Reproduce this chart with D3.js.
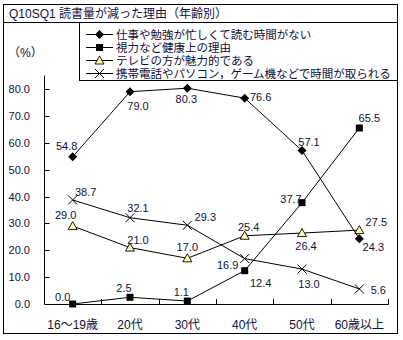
<!DOCTYPE html>
<html>
<head>
<meta charset="utf-8">
<script src="https://cdn.jsdelivr.net/npm/d3@7"></script>
<style>
  body { margin: 0; background: #fff; }
  text { font-family: "Liberation Sans", "Noto Sans CJK JP", sans-serif; fill: #10103a; }
</style>
</head>
<body>
<div id="chart"></div>
<script>
const title = "Q10SQ1 読書量が減った理由（年齢別）"
const categories = ["16〜19歳", "20代", "30代", "40代", "50代", "60歳以上"]
const seriesNames = [
  "仕事や勉強が忙しくて読む時間がない",
  "視力など健康上の理由",
  "テレビの方が魅力的である",
  "携帯電話やパソコン，ゲーム機などで時間が取られる"
]
const busy = [54.8, 79.0, 80.3, 76.6, 57.1, 24.3]
const health = [0.0, 2.5, 1.1, 12.4, 37.7, 65.5]
const tv = [29.0, 21.0, 17.0, 25.4, 26.4, 27.5]
const phone = [38.7, 32.1, 29.3, 16.9, 13.0, 5.6]
const yTicks = [0, 10, 20, 30, 40, 50, 60, 70, 80]

// where each value label sits relative to its point (dx of text centre, dy of baseline)
const labelOffsets = [
  [[-6, -7], [8, 18], [-1, 15], [16, 3], [7, -5], [14, 12]],
  [[-10, -3], [-6, -5], [-6, -5], [16, 16], [-11, 0], [10, -6]],
  [[-7, -7], [8, -4], [0, -7], [4, -5], [4, 17], [17, -4]],
  [[13, -4], [8, -6], [18, -4], [-17, 10], [7, 19], [19, 5]]
]

const width = 403, height = 340
const svg = d3.select("#chart").append("svg")
  .attr("width", width)
  .attr("height", height)

// outer frame + title row
svg.append("rect")
  .attr("x", 3.5).attr("y", 4.5)
  .attr("width", 394).attr("height", 329)
  .attr("fill", "none").attr("stroke", "#000")
svg.append("line")
  .attr("x1", 3.5).attr("x2", 397.5)
  .attr("y1", 22.5).attr("y2", 22.5)
  .attr("stroke", "#000")
svg.append("text")
  .attr("x", 9).attr("y", 18)
  .style("font-size", "12px")
  .text(title)

svg.append("text")
  .attr("x", 8).attr("y", 57)
  .style("font-size", "12px")
  .text("（%）")

const x = d3.scaleBand().domain(categories).range([44, 388])
const y = d3.scaleLinear().domain([0, 80]).range([304, 89])
const cx = (i) => x(categories[i]) + x.bandwidth() / 2

// y axis
const yAxis = svg.append("g")
yAxis.append("line")
  .attr("x1", 44.5).attr("x2", 44.5)
  .attr("y1", y(85)).attr("y2", y(0))
  .attr("stroke", "#000")
yAxis.selectAll(".ytick")
  .data(yTicks)
  .join("line")
    .attr("class", "ytick")
    .attr("x1", 44.5).attr("x2", 49.5)
    .attr("y1", d => Math.round(y(d)) + 0.5)
    .attr("y2", d => Math.round(y(d)) + 0.5)
    .attr("stroke", "#000")
yAxis.selectAll(".ylabel")
  .data(yTicks)
  .join("text")
    .attr("class", "ylabel")
    .attr("x", 30)
    .attr("y", d => y(d) + 4)
    .attr("text-anchor", "end")
    .style("font-size", "11px")
    .text(d => d.toFixed(1))

// x axis
const edges = categories.map(c => x(c)).concat([x(categories[categories.length - 1]) + x.bandwidth()])
svg.append("line")
  .attr("x1", 44.5).attr("x2", 388.5)
  .attr("y1", Math.round(y(0)) + 0.5).attr("y2", Math.round(y(0)) + 0.5)
  .attr("stroke", "#000")
svg.selectAll(".xtick")
  .data(edges.slice(1))
  .join("line")
    .attr("class", "xtick")
    .attr("x1", d => Math.round(d) + 0.5).attr("x2", d => Math.round(d) + 0.5)
    .attr("y1", Math.round(y(0)) - 5).attr("y2", Math.round(y(0)) + 0.5)
    .attr("stroke", "#000")
svg.selectAll(".xlabel")
  .data(categories)
  .join("text")
    .attr("class", "xlabel")
    .attr("x", d => x(d) + x.bandwidth() / 2)
    .attr("y", 329)
    .attr("text-anchor", "middle")
    .style("font-size", "12px")
    .text(d => d)

// markers
function drawMarker(g, type, px, py) {
  if (type == "diamond") {
    g.append("path")
      .attr("d", `M${px},${py - 4.5}L${px + 4.5},${py}L${px},${py + 4.5}L${px - 4.5},${py}Z`)
      .attr("fill", "#000")
  } else if (type == "square") {
    g.append("rect")
      .attr("x", px - 3.5).attr("y", py - 3.5)
      .attr("width", 7).attr("height", 7)
      .attr("fill", "#000")
  } else if (type == "triangle") {
    g.append("path")
      .attr("d", `M${px},${py - 4.5}L${px + 4.5},${py + 3.5}L${px - 4.5},${py + 3.5}Z`)
      .attr("fill", "#ffffb0").attr("stroke", "#000").attr("stroke-width", 0.9)
  } else {
    g.append("path")
      .attr("d", `M${px - 4.5},${py - 4.5}L${px + 4.5},${py + 4.5}M${px + 4.5},${py - 4.5}L${px - 4.5},${py + 4.5}`)
      .attr("stroke", "#000").attr("stroke-width", 1)
  }
}

const series = [
  {values: busy, marker: "diamond"},
  {values: health, marker: "square"},
  {values: tv, marker: "triangle"},
  {values: phone, marker: "cross"}
]

const line = d3.line().x((d, i) => cx(i)).y(d => y(d))

series.forEach((s, si) => {
  const g = svg.append("g")
  g.append("path")
    .attr("d", line(s.values))
    .attr("fill", "none")
    .attr("stroke", "#000")
    .attr("stroke-width", 1)
  s.values.forEach((v, i) => drawMarker(g, s.marker, cx(i), y(v)))
  g.selectAll("text")
    .data(s.values)
    .join("text")
      .attr("x", (d, i) => cx(i) + labelOffsets[si][i][0])
      .attr("y", (d, i) => y(d) + labelOffsets[si][i][1])
      .attr("text-anchor", "middle")
      .style("font-size", "11px")
      .text(d => d.toFixed(1))
})

// legend
const legend = svg.append("g")
legend.append("rect")
  .attr("x", 79.5).attr("y", 22.5)
  .attr("width", 318).attr("height", 58)
  .attr("fill", "#fff").attr("stroke", "#000")
series.forEach((s, si) => {
  const ly = 34 + si * 13
  legend.append("line")
    .attr("x1", 86).attr("x2", 113)
    .attr("y1", ly + 0.5).attr("y2", ly + 0.5)
    .attr("stroke", "#000")
  drawMarker(legend, s.marker, 99.5, ly + 0.5)
  legend.append("text")
    .attr("x", 116).attr("y", ly + 4.5)
    .style("font-size", "11.5px")
    .text(seriesNames[si])
})
</script>
</body>
</html>
